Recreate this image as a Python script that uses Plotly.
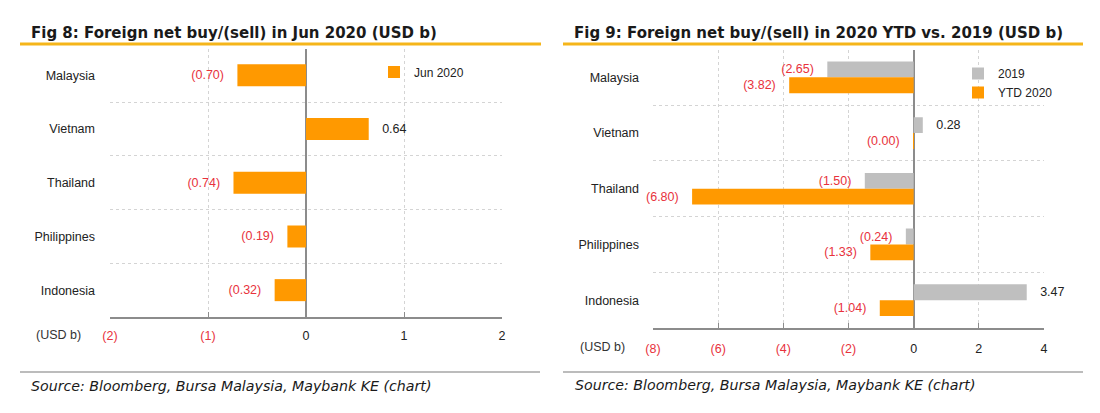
import plotly.graph_objects as go

W, H = 1100, 413

# ---------------- data ----------------
countries = ["Malaysia", "Vietnam", "Thailand", "Philippines", "Indonesia"]
jun2020 = [-0.70, 0.64, -0.74, -0.19, -0.32]
y2019 = [-2.65, 0.28, -1.50, -0.24, 3.47]
ytd2020 = [-3.82, -0.003, -6.80, -1.33, -1.04]

left_ticks = [-2, -1, 0, 1, 2]
right_ticks = [-8, -6, -4, -2, 0, 2, 4]

title_left = "Fig 8: Foreign net buy/(sell) in Jun 2020 (USD b)"
title_right = "Fig 9: Foreign net buy/(sell) in 2020 YTD vs. 2019 (USD b)"
source_text = "Source: Bloomberg, Bursa Malaysia, Maybank KE (chart)"

# ---------------- style ----------------
ORANGE = "#FF9900"
GREY_BAR = "#BFBFBF"
RED = "#E8323C"
DARK = "#222222"
AXIS_GREY = "#8C8C8C"
GRID = "#D4D4D4"
GOLD = "#F5B51A"
FONT = "Liberation Sans, Arial, sans-serif"
NB = "\u00a0"


def px_x(p):
    return p / W


def px_y(p):
    return 1 - p / H


def fmt_label(v):
    if v < 0:
        return f"({abs(v):.2f}){NB * 3}"
    return f"{NB * 3}{v:.2f}"


def label_colors(vals):
    return [RED if v < 0 else DARK for v in vals]


def tick_text(vals):
    out = []
    for v in vals:
        if v < 0:
            out.append(f"<span style='color:{RED}'>({abs(v)})</span>")
        else:
            out.append(str(v))
    return out


fig = go.Figure()

fig.add_trace(go.Bar(
    y=countries, x=jun2020, orientation="h", name="Jun 2020",
    marker=dict(color=ORANGE, line=dict(width=0)), width=0.41,
    text=[fmt_label(v) for v in jun2020], textposition="outside",
    textfont=dict(color=label_colors(jun2020), size=12.5, family=FONT),
    constraintext="none", cliponaxis=False,
    xaxis="x", yaxis="y", legend="legend", hoverinfo="skip",
))

fig.add_trace(go.Bar(
    y=countries, x=y2019, orientation="h", name="2019",
    marker=dict(color=GREY_BAR, line=dict(width=0)),
    text=[fmt_label(v) for v in y2019], textposition="outside",
    textfont=dict(color=label_colors(y2019), size=12.5, family=FONT),
    constraintext="none", cliponaxis=False,
    xaxis="x2", yaxis="y2", legend="legend2", legendgroup="a", hoverinfo="skip",
))

fig.add_trace(go.Bar(
    y=countries, x=ytd2020, orientation="h", name="YTD 2020",
    marker=dict(color=ORANGE, line=dict(width=0)),
    text=[fmt_label(v) for v in ytd2020], textposition="outside",
    textfont=dict(color=label_colors(ytd2020), size=12.5, family=FONT),
    constraintext="none", cliponaxis=False,
    xaxis="x2", yaxis="y2", legend="legend2", legendgroup="b", hoverinfo="skip",
))

common_x = dict(
    showline=True, linecolor=AXIS_GREY, linewidth=1.5,
    ticks="inside", ticklen=5, tickcolor=AXIS_GREY,
    showgrid=True, gridcolor=GRID, griddash="3px,3px", gridwidth=1,
    zeroline=True, zerolinecolor=AXIS_GREY, zerolinewidth=1.5,
    tickfont=dict(size=12.5, color=DARK, family=FONT),
    fixedrange=True, automargin=False,
)
common_y = dict(
    type="category", categoryorder="array", categoryarray=countries,
    autorange="reversed", tickson="boundaries", ticks="",
    showgrid=True, gridcolor=GRID, griddash="3px,3px", gridwidth=1,
    showline=False, zeroline=False,
    tickfont=dict(size=12.5, color=DARK, family=FONT),
    fixedrange=True, automargin=False,
)

layout = dict(
    width=W, height=H, autosize=False,
    margin=dict(l=0, r=0, t=0, b=0),
    paper_bgcolor="white", plot_bgcolor="white",
    font=dict(family=FONT, size=12, color=DARK),
    barmode="group", bargap=0.43, bargroupgap=0.0,
    xaxis=dict(common_x, domain=[px_x(110), px_x(502)], range=[-2, 2],
               tickvals=left_ticks, ticktext=tick_text(left_ticks),
               anchor="y", ticklabelstandoff=6),
    yaxis=dict(common_y, domain=[px_y(317), px_y(48.5)], anchor="x",
               ticklabelstandoff=14),
    xaxis2=dict(common_x, domain=[px_x(653), px_x(1044)], range=[-8, 4],
                tickvals=right_ticks, ticktext=tick_text(right_ticks),
                anchor="y2", ticklabelstandoff=8),
    yaxis2=dict(common_y, domain=[px_y(328), px_y(49.5)], anchor="x2",
                ticklabelstandoff=13),
    showlegend=True,
    legend=dict(x=px_x(374), y=px_y(72), xanchor="left", yanchor="middle",
                bgcolor="rgba(0,0,0,0)", font=dict(size=12, color=DARK),
                itemwidth=30),
    legend2=dict(x=px_x(958), y=px_y(83), xanchor="left", yanchor="middle",
                 bgcolor="rgba(0,0,0,0)", font=dict(size=12, color=DARK),
                 itemwidth=30, tracegroupgap=14, traceorder="normal"),
)
fig.update_layout(**layout)

shapes = []
# gold title rules
for x0, x1 in [(20, 541), (563, 1083)]:
    shapes.append(dict(type="line", xref="paper", yref="paper",
                       x0=px_x(x0), x1=px_x(x1), y0=px_y(44), y1=px_y(44),
                       line=dict(color=GOLD, width=3)))
# grey source separators
for x0, x1 in [(20, 540), (563, 1083)]:
    shapes.append(dict(type="line", xref="paper", yref="paper",
                       x0=px_x(x0), x1=px_x(x1), y0=px_y(372), y1=px_y(372),
                       line=dict(color="#A6A6A6", width=1.5)))
fig.update_layout(shapes=shapes)

ann = []
TITLE_FONT = dict(family="DejaVu Sans, sans-serif", size=15, color="#1A1A1A")
ann.append(dict(text=f"<b>{title_left}</b>", x=px_x(29), y=px_y(33),
                xref="paper", yref="paper", xanchor="left", yanchor="middle",
                showarrow=False, font=TITLE_FONT))
ann.append(dict(text=f"<b>{title_right}</b>", x=px_x(572), y=px_y(33),
                xref="paper", yref="paper", xanchor="left", yanchor="middle",
                showarrow=False, font=TITLE_FONT))
SRC_FONT = dict(family="DejaVu Sans, sans-serif", size=14.2, color="#1A1A1A")
ann.append(dict(text=f"<i>{source_text}</i>", x=px_x(29), y=px_y(386),
                xref="paper", yref="paper", xanchor="left", yanchor="middle",
                showarrow=False, font=SRC_FONT))
ann.append(dict(text=f"<i>{source_text}</i>", x=px_x(573), y=px_y(385),
                xref="paper", yref="paper", xanchor="left", yanchor="middle",
                showarrow=False, font=SRC_FONT))
ann.append(dict(text="(USD b)", x=px_x(58), y=px_y(335),
                xref="paper", yref="paper", xanchor="center", yanchor="middle",
                showarrow=False, font=dict(size=12.5, color="#333333", family=FONT)))
ann.append(dict(text="(USD b)", x=px_x(602), y=px_y(347),
                xref="paper", yref="paper", xanchor="center", yanchor="middle",
                showarrow=False, font=dict(size=12.5, color="#333333", family=FONT)))
fig.update_layout(annotations=ann)

fig.write_html("out.html")
